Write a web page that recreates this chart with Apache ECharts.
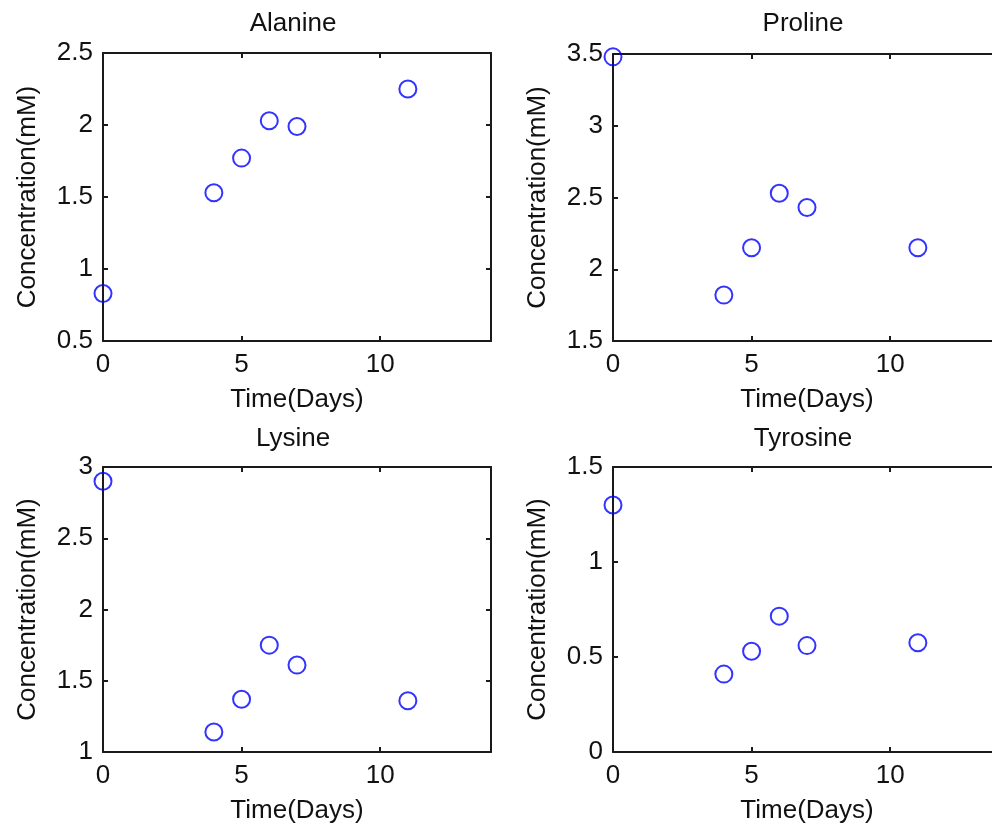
<!DOCTYPE html>
<html>
<head>
<meta charset="utf-8">
<script src="https://cdn.jsdelivr.net/npm/echarts@6/dist/echarts.min.js"></script>
<style>
html,body{margin:0;padding:0;background:#fff;}
#chart{width:992px;height:827px;}
</style>
</head>
<body>
<div id="chart"></div>
<script>
// ---- data ----
const days = [0, 4, 5, 6, 7, 11];
const titles = ['Alanine', 'Proline', 'Lysine', 'Tyrosine'];
const alanine  = [0.83, 1.53, 1.77, 2.03, 1.99, 2.25];
const proline  = [3.48, 1.82, 2.15, 2.53, 2.43, 2.15];
const lysine   = [2.90, 1.14, 1.37, 1.75, 1.61, 1.36];
const tyrosine = [1.30, 0.41, 0.53, 0.715, 0.56, 0.575];
const xTicks = [0, 5, 10];
const xMin = 0, xMax = 14;
const yMins = [0.5, 1.5, 1, 0];
const yMaxs = [2.5, 3.5, 3, 1.5];
const yStep = 0.5;
const xLabel = 'Time(Days)';
const yLabel = 'Concentration(mM)';

const seriesData = [alanine, proline, lysine, tyrosine];

// ---- layout ----
const grids = [
  {left: 103, top: 53, width: 388, height: 288},
  {left: 613, top: 54, width: 388, height: 287},
  {left: 103, top: 467, width: 388, height: 285},
  {left: 613, top: 467, width: 388, height: 285}
].map(g => Object.assign(g, {outerBoundsMode: 'none', containLabel: false}));
const titlePos = [[293, 11], [803, 11], [293, 426], [803, 426]];
const FONT = 'Liberation Sans';
const FS = 26;
const TXT = '#111';

const xAxis = [], yAxis = [], series = [], title = [];
const lineStyle = {color: '#1a1a1a', width: 2};
grids.forEach((g, i) => {
  const base = {min: xMin, max: xMax, gridIndex: i, type: 'value', splitLine: {show: false}};
  xAxis.push(Object.assign({}, base, {
    position: 'bottom',
    name: xLabel, nameLocation: 'middle', nameGap: 46,
    nameTextStyle: {fontFamily: FONT, fontSize: FS, color: TXT},
    axisLine: {show: true, onZero: false, lineStyle},
    axisTick: {show: true, inside: true, length: 5, lineStyle, customValues: xTicks},
    axisLabel: {show: true, margin: 11, fontFamily: FONT, fontSize: FS, color: TXT, customValues: xTicks}
  }));
  xAxis.push(Object.assign({}, base, {
    position: 'top',
    axisLine: {show: true, onZero: false, lineStyle},
    axisTick: {show: true, inside: true, length: 5, lineStyle, customValues: xTicks},
    axisLabel: {show: false}
  }));
  const ybase = {min: yMins[i], max: yMaxs[i], interval: yStep, gridIndex: i, type: 'value', splitLine: {show: false}};
  yAxis.push(Object.assign({}, ybase, {
    position: 'left',
    name: yLabel, nameLocation: 'middle', nameGap: 62,
    nameTextStyle: {fontFamily: FONT, fontSize: FS, color: TXT},
    axisLine: {show: true, onZero: false, lineStyle},
    axisTick: {show: true, inside: true, length: 5, lineStyle},
    axisLabel: {show: true, margin: 10, fontFamily: FONT, fontSize: FS, color: TXT}
  }));
  yAxis.push(Object.assign({}, ybase, {
    position: 'right',
    axisLine: {show: true, onZero: false, lineStyle},
    axisTick: {show: true, inside: true, length: 5, lineStyle},
    axisLabel: {show: false}
  }));
  series.push({
    type: 'scatter',
    xAxisIndex: i * 2,
    yAxisIndex: i * 2,
    clip: false,
    symbol: 'circle',
    symbolSize: 17,
    itemStyle: {color: 'rgba(0,0,0,0)', borderColor: '#0000ff', borderWidth: 2},
    emphasis: {disabled: true},
    data: days.map((d, k) => [d, seriesData[i][k]])
  });
  title.push({
    text: titles[i],
    left: titlePos[i][0], top: titlePos[i][1],
    textAlign: 'center', padding: 0,
    textStyle: {fontFamily: FONT, fontSize: FS, fontWeight: 'normal', color: TXT}
  });
});

const chart = echarts.init(document.getElementById('chart'), null, {renderer: 'canvas'});
chart.setOption({
  animation: false,
  backgroundColor: '#fff',
  title, grid: grids, xAxis, yAxis, series
});
</script>
</body>
</html>
